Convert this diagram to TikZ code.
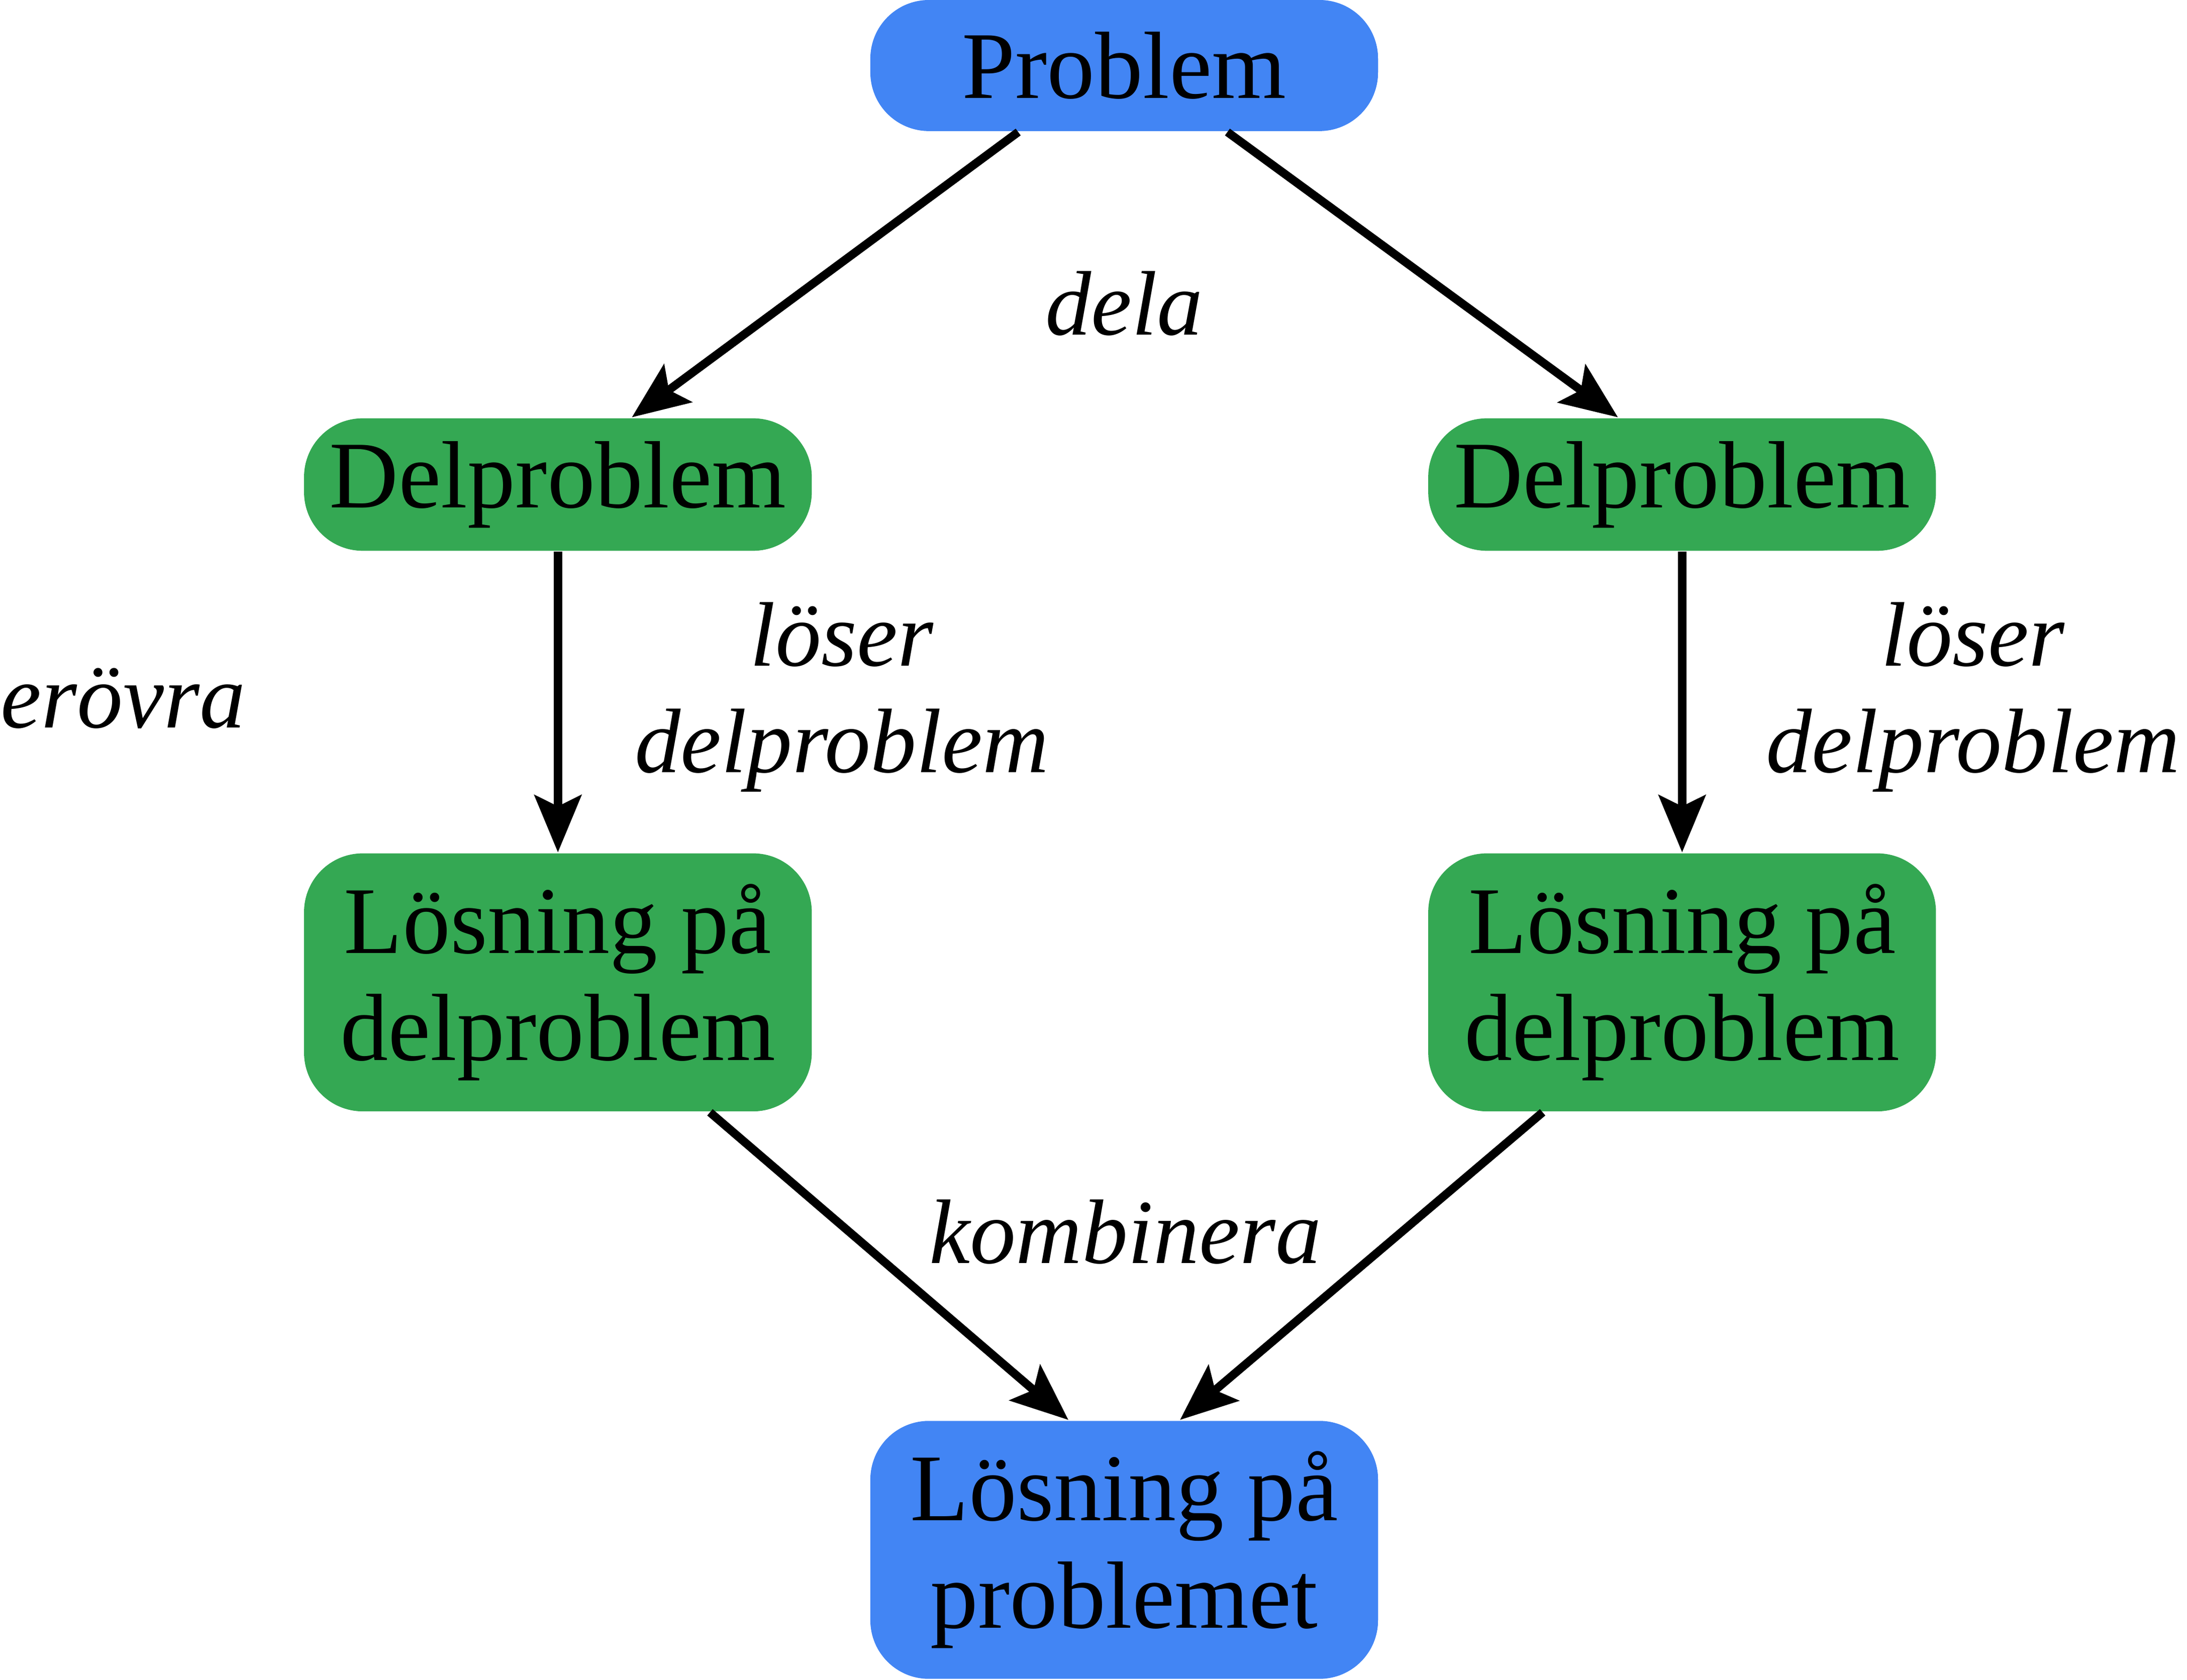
\documentclass[tikz,border=0pt]{standalone}
\usepackage{fontspec}
\setmainfont{Liberation Serif}
\usetikzlibrary{arrows.meta}
\definecolor{blaa}{HTML}{4285F4}
\definecolor{groen}{HTML}{34A853}
\tikzset{
  ruta/.style={rounded corners=0.42cm, minimum width=3.64cm, inner sep=0pt, align=center, font=\fontsize{19.5}{21.9}\selectfont},
  liten/.style={ruta, fill=groen, minimum height=0.95cm},
  stor/.style={ruta, minimum height=1.85cm},
  etikett/.style={align=center, inner sep=0pt, font=\fontsize{18.7}{21.8}\selectfont\itshape},
  pil/.style={-{Stealth[length=4.1mm,width=3.35mm,inset=0.8mm]}, line width=0.06cm}
}

\begin{document}
\begin{tikzpicture}
    \useasboundingbox (0,0) rectangle (15.68,-12.045);

    \node[liten, fill=blaa, minimum height=0.94cm] (prob) at (8.06,-0.47) {Problem};
    \node[liten] (dv) at (4.00,-3.475) {Delproblem};
    \node[liten] (dh) at (12.06,-3.475) {Delproblem};
    \node[stor, fill=groen] (lv) at (4.00,-7.045) {Lösning på\\delproblem};
    \node[stor, fill=groen] (lh) at (12.06,-7.045) {Lösning på\\delproblem};
    \node[stor, fill=blaa] (lp) at (8.06,-11.115) {Lösning på\\problemet};

    \node[etikett, anchor=base] (dela) at (8.06,-2.40) {dela};
    \node[etikett] (losv) at (6.035,-5.00) {löser\\delproblem};
    \node[etikett] (losh) at (14.146,-5.00) {löser\\delproblem};
    \node[etikett, anchor=base west] (erovra) at (0.0,-5.22) {erövra};
    \node[etikett, anchor=base] (komb) at (8.07,-9.06) {kombinera};

    \draw[pil] ([xshift=-7.6mm]prob.south) -- ([xshift=5.3mm]dv.north);
    \draw[pil] ([xshift=7.4mm]prob.south) -- ([xshift=-4.6mm]dh.north);
    \draw[pil] (dv.south) -- (lv.north);
    \draw[pil] (dh.south) -- (lh.north);
    \draw[pil] ([xshift=10.9mm]lv.south) -- ([xshift=-4mm]lp.north);
    \draw[pil] ([xshift=-10.0mm]lh.south) -- ([xshift=4mm]lp.north);
\end{tikzpicture}
\end{document}
